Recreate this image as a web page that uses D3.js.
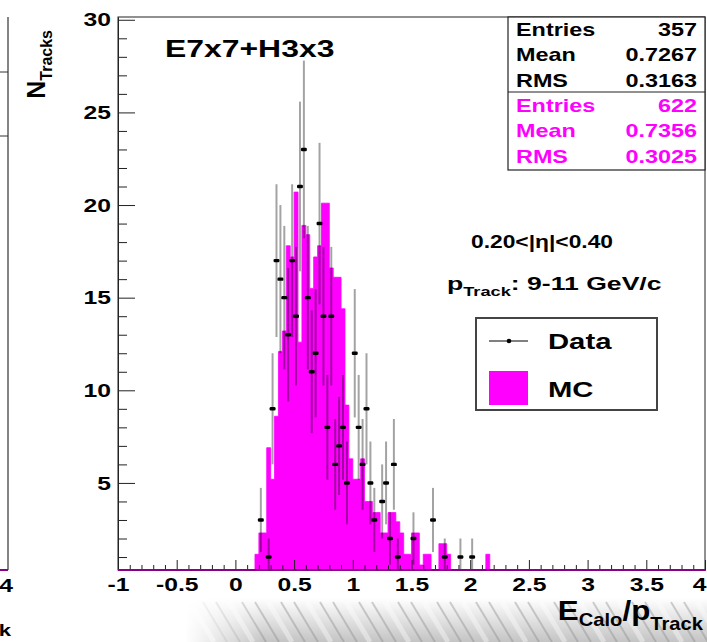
<!DOCTYPE html>
<html>
<head>
<meta charset="utf-8">
<script src="https://cdn.jsdelivr.net/npm/d3@7"></script>
<style>
  html, body { margin: 0; padding: 0; background: #fff; }
  svg { display: block; font-family: 'Liberation Sans', Arial, Helvetica, sans-serif; font-weight: bold; }
</style>
</head>
<body>
<div id="chart"></div>
<script>
// histogram binning: 150 bins from -1 to 4
const binWidth = 1 / 30;

// MC (normalised to data), consecutive bins starting at mcStart
const mcStart = 0.1667;
const mcValues = [
  1.15, 2.3, 2.3, 6.9, 5.2, 8.6, 12.1, 13.2, 17.8, 17.2,
  20.7, 12.6, 18.9, 18.4, 15.5, 17.2, 17.8, 20.1, 20.1, 16.6,
  16.1, 16.1, 14.4, 9.2, 6.3, 5.2, 5.2, 6.3, 4.0, 4.0,
  3.4, 3.4, 2.3, 2.3, 3.4, 3.4, 2.9, 2.3, 1.15, 1.15,
  2.3, 2.3, 0.57, 1.15, 1.15, 0, 0, 1.72, 1.72, 1.15,
  0, 0, 0, 0, 0, 0, 0, 0, 0, 1.15
];

// data counts, consecutive bins starting at dataStart
const dataStart = 0.2;
const dataValues = [
  3, 0, 1, 9, 17, 16, 15, 13, 17, 14,
  21, 23, 15, 11, 12, 19, 14, 8, 14, 6,
  7, 8, 5, 0, 12, 8, 6, 9, 5, 3,
  0, 4, 5, 2, 6, 1, 0, 0, 0, 2,
  0, 0, 0, 0, 3, 0, 0, 1, 0, 0,
  0, 1, 0, 0, 1
];

const xTicks = [-1, -0.5, 0, 0.5, 1, 1.5, 2, 2.5, 3, 3.5, 4];
const yTicks = [5, 10, 15, 20, 25, 30];
const statsData = [['Entries', '357'], ['Mean', '0.7267'], ['RMS', '0.3163']];
const statsMC = [['Entries', '622'], ['Mean', '0.7356'], ['RMS', '0.3025']];

const magenta = '#ff00ff';
const W = 707, H = 642;
const frame = { left: 118, right: 705, top: 17, bottom: 570 };
const stretch = 1.3; // the picture is widened, so the glyphs are too

const svg = d3.select('#chart').append('svg')
  .attr('width', W)
  .attr('height', H);

const x = d3.scaleLinear().domain([-1, 4]).range([frame.left, frame.right]);
const y = d3.scaleLinear().domain([0.3, 30.15]).range([frame.bottom, frame.top]);
const yMin = y.domain()[0];

// text with horizontally widened glyphs
function label(parent, tx, ty, size, anchor, sx) {
  return parent.append('text')
    .attr('transform', `translate(${tx},${ty}) scale(${sx},1)`)
    .attr('font-size', size)
    .attr('text-anchor', anchor);
}

// slide "floor" shading at the bottom
const defs = svg.append('defs');
const floorGrad = defs.append('linearGradient')
  .attr('id', 'floorGrad').attr('x1', 0).attr('y1', 0).attr('x2', 0).attr('y2', 1);
floorGrad.append('stop').attr('offset', '0%').attr('stop-color', '#ffffff');
floorGrad.append('stop').attr('offset', '100%').attr('stop-color', '#c4c4c4');
const fadeGrad = defs.append('linearGradient')
  .attr('id', 'fadeGrad').attr('x1', 0).attr('y1', 0).attr('x2', 1).attr('y2', 0);
fadeGrad.append('stop').attr('offset', '0%').attr('stop-color', '#000');
fadeGrad.append('stop').attr('offset', '15%').attr('stop-color', '#fff');
fadeGrad.append('stop').attr('offset', '100%').attr('stop-color', '#fff');
defs.append('mask').attr('id', 'fadeMask')
  .append('rect').attr('x', 185).attr('y', 598).attr('width', W - 185).attr('height', H - 598)
  .attr('fill', 'url(#fadeGrad)');

const floor = svg.append('g').attr('mask', 'url(#fadeMask)');
floor.append('rect')
  .attr('x', 185).attr('y', 598).attr('width', W - 185).attr('height', H - 598)
  .attr('fill', 'url(#floorGrad)');
floor.selectAll('line.streak')
  .data(d3.range(190, 740, 13))
  .join('line')
  .attr('class', 'streak')
  .attr('x1', d => d).attr('y1', 602)
  .attr('x2', d => d + 24).attr('y2', H)
  .attr('stroke', (d, i) => (i % 3 === 0 ? '#ffffff' : '#8a8a8a'))
  .attr('stroke-width', (d, i) => (i % 3 === 0 ? 5 : 2))
  .attr('opacity', 0.4);

// remnants of the neighbouring panel on the left
svg.append('line')
  .attr('x1', 8).attr('x2', 8).attr('y1', frame.top).attr('y2', frame.bottom)
  .attr('stroke', '#333').attr('stroke-width', 1.2);
[72, 136].forEach(yy => {
  svg.append('line').attr('x1', 0).attr('x2', 8).attr('y1', yy).attr('y2', yy)
    .attr('stroke', '#333').attr('stroke-width', 1);
});
svg.append('line').attr('x1', 0).attr('x2', 8).attr('y1', frame.bottom).attr('y2', frame.bottom)
  .attr('stroke', '#8b008b').attr('stroke-width', 2);
label(svg, 6, 592, 19, 'middle', stretch).text('4');
label(svg, 5, 636, 17, 'middle', stretch).text('k');

// MC histogram as one filled step area
const mcBins = mcValues.map((v, i) => ({ lo: mcStart + i * binWidth, v }));
mcBins.push({ lo: mcStart + mcValues.length * binWidth, v: 0 });
const mcArea = d3.area()
  .x(d => x(d.lo))
  .y0(frame.bottom)
  .y1(d => y(Math.max(d.v, yMin)))
  .curve(d3.curveStepAfter);
svg.append('path')
  .datum(mcBins)
  .attr('d', mcArea)
  .attr('fill', magenta)
  .attr('stroke', magenta)
  .attr('stroke-width', 0.8);

// data points with sqrt(N) errors
const dataBins = dataValues
  .map((v, i) => ({ c: dataStart + (i + 0.5) * binWidth, v }))
  .filter(d => d.v > 0);

svg.append('g')
  .selectAll('line')
  .data(dataBins)
  .join('line')
  .attr('x1', d => x(d.c)).attr('x2', d => x(d.c))
  .attr('y1', d => y(Math.max(d.v - Math.sqrt(d.v), yMin)))
  .attr('y2', d => y(d.v + Math.sqrt(d.v)))
  .attr('stroke', '#000')
  .attr('stroke-opacity', 0.36)
  .attr('stroke-width', 2);

svg.append('g')
  .selectAll('rect')
  .data(dataBins)
  .join('rect')
  .attr('x', d => x(d.c - binWidth / 2) - 1)
  .attr('width', d => x(d.c + binWidth / 2) - x(d.c - binWidth / 2) + 2)
  .attr('y', d => y(d.v) - 1.7)
  .attr('height', 3.4)
  .attr('rx', 1.2)
  .attr('fill', '#000');

// axes (ROOT style: ticks inside the frame)
const styleAxis = g => {
  g.attr('font-family', null).attr('font-size', null);
  g.selectAll('text').attr('font-size', 19).attr('font-weight', 'bold').attr('fill', '#000');
  g.selectAll('line').attr('stroke', '#222');
  g.select('.domain').attr('stroke', '#222');
};

svg.append('g')
  .attr('transform', `translate(${frame.left},0)`)
  .call(d3.axisLeft(y).tickValues(y.ticks(30).filter(t => t % 5 !== 0))
    .tickSizeInner(-9).tickSizeOuter(0).tickFormat(''))
  .call(styleAxis);
svg.append('g')
  .attr('transform', `translate(${frame.left},0)`)
  .call(d3.axisLeft(y).tickValues(yTicks)
    .tickSizeInner(-17).tickSizeOuter(0).tickPadding(7).tickFormat(d3.format('d')))
  .call(styleAxis)
  .call(g => g.selectAll('text').attr('x', -7 / stretch).attr('transform', `scale(${stretch},1)`));

svg.append('g')
  .attr('transform', `translate(0,${frame.bottom})`)
  .call(d3.axisBottom(x).tickValues(x.ticks(50).filter(t => Math.abs(t * 2 - Math.round(t * 2)) > 1e-6))
    .tickSizeInner(-5).tickSizeOuter(0).tickFormat(''))
  .call(styleAxis);
svg.append('g')
  .attr('transform', `translate(0,${frame.bottom})`)
  .call(d3.axisBottom(x).tickValues(xTicks)
    .tickSizeInner(-10).tickSizeOuter(0).tickPadding(8).tickFormat(d => String(d)))
  .call(styleAxis)
  .call(g => g.selectAll('text')
    .attr('x', d => (d === 4 ? -6 / stretch : 0))
    .attr('transform', `scale(${stretch},1)`));

// frame
svg.append('rect')
  .attr('x', frame.left).attr('y', frame.top)
  .attr('width', frame.right - frame.left).attr('height', frame.bottom - frame.top)
  .attr('fill', 'none').attr('stroke', '#222').attr('stroke-width', 1);
svg.append('line')
  .attr('x1', frame.left).attr('x2', frame.right)
  .attr('y1', frame.bottom).attr('y2', frame.bottom)
  .attr('stroke', '#8b008b').attr('stroke-width', 2);

// axis titles
const yTitle = svg.append('text')
  .attr('transform', 'translate(45,30) rotate(-90)')
  .attr('text-anchor', 'end');
yTitle.append('tspan').attr('font-size', 25).text('N');
yTitle.append('tspan').attr('font-size', 16).attr('dy', 7).text('Tracks');

const xTitle = label(svg, 703, 620, 28, 'end', 1.12);
xTitle.append('tspan').text('E');
xTitle.append('tspan').attr('font-size', 18).attr('dy', 6).text('Calo');
xTitle.append('tspan').attr('dy', -6).text('/p');
xTitle.append('tspan').attr('font-size', 18).attr('dy', 10).text('Track');

// labels inside the frame
label(svg, 165, 57, 24, 'start', 1.33).text('E7x7+H3x3');
label(svg, 542, 248, 19, 'middle', 1.2).text('0.20<|η|<0.40');
const pLabel = label(svg, 447, 290, 19, 'start', 1.4);
pLabel.append('tspan').text('p');
pLabel.append('tspan').attr('font-size', 13).attr('dy', 6).text('Track');
pLabel.append('tspan').attr('dy', -6).text(':  9-11 GeV/c');

// stats box
const stats = svg.append('g');
stats.append('rect')
  .attr('x', 508).attr('y', frame.top).attr('width', frame.right - 508).attr('height', 153)
  .attr('fill', '#fff').attr('stroke', '#222').attr('stroke-width', 1.2);
stats.append('line').attr('x1', 508).attr('x2', frame.right).attr('y1', 92).attr('y2', 92)
  .attr('stroke', '#222').attr('stroke-width', 1.2);
const statRows = statsData.map(r => ({ r, color: '#000' }))
  .concat(statsMC.map(r => ({ r, color: magenta })));
statRows.forEach((row, i) => {
  const by = 36 + i * 25.3;
  label(stats, 516, by, 18, 'start', stretch).attr('fill', row.color).text(row.r[0]);
  label(stats, 697, by, 18, 'end', stretch).attr('fill', row.color).text(row.r[1]);
});

// legend
const legend = svg.append('g');
legend.append('rect')
  .attr('x', 476).attr('y', 318).attr('width', 181).attr('height', 92)
  .attr('fill', '#fff').attr('stroke', '#444').attr('stroke-width', 2);
legend.append('line').attr('x1', 489).attr('x2', 528).attr('y1', 341).attr('y2', 341)
  .attr('stroke', '#000').attr('stroke-width', 1);
legend.append('circle').attr('cx', 509).attr('cy', 341).attr('r', 2.3).attr('fill', '#000');
label(legend, 548, 349, 22, 'start', 1.33).text('Data');
legend.append('rect').attr('x', 489).attr('y', 371).attr('width', 39).attr('height', 34)
  .attr('fill', magenta);
label(legend, 548, 397, 22, 'start', 1.33).text('MC');
</script>
</body>
</html>
